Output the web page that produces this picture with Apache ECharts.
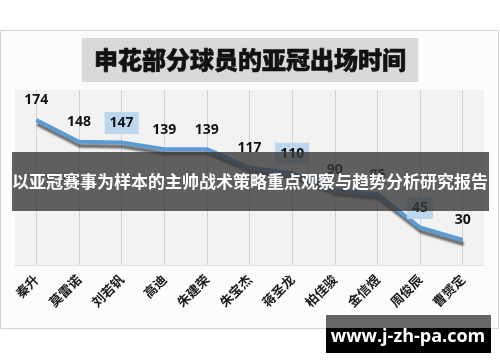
<!DOCTYPE html>
<html>
<head>
<meta charset="utf-8">
<script src="https://cdn.jsdelivr.net/npm/echarts@6/dist/echarts.min.js"></script>
<style>html,body{margin:0;padding:0;background:#fff;}#c{width:500px;height:362px;}</style>
</head>
<body>
<div id="c"></div>
<script>
const chartTitle = '申花部分球员的亚冠出场时间';
const bannerText = '以亚冠赛事为样本的主帅战术策略重点观察与趋势分析研究报告';
const watermarkText = 'www.j-zh-pa.com';
const categories = ['秦升','莫雷诺','刘若钒','高迪','朱建荣','朱宝杰','蒋圣龙','柏佳骏','金信煜','周俊辰','曹赟定'];
const minutes = [174,148,147,139,139,117,110,90,85,45,30];
const highlighted = ['刘若钒','蒋圣龙','周俊辰'];

const cjk = '"Noto Sans CJK SC", "Noto Sans", sans-serif';
const seriesData = minutes.map((v, i) => ({
  value: v,
  label: highlighted.indexOf(categories[i]) >= 0 ? { backgroundColor: '#bdd7ee' } : {}
}));

const chart = echarts.init(document.getElementById('c'), null, { renderer: 'canvas' });
chart.setOption({
  animation: false,
  backgroundColor: '#ffffff',
  title: {
    text: chartTitle,
    left: 'center',
    top: 38,
    backgroundColor: '#d9d9d9',
    padding: [8, 12],
    textStyle: { fontFamily: cjk, fontSize: 24, fontWeight: 900, color: '#111', lineHeight: 28,
      textBorderColor: '#111', textBorderWidth: 0.6 }
  },
  grid: {
    left: 15, right: 16, top: 90, bottom: 97,
    show: true, backgroundColor: '#f2f2f2', borderWidth: 0
  },
  xAxis: {
    type: 'category',
    data: categories,
    boundaryGap: true,
    axisLine: { show: true, lineStyle: { color: '#e2e2e2', width: 1 } },
    axisTick: { show: false },
    splitLine: { show: true, alignWithLabel: true, lineStyle: { color: '#d3d3d3', width: 1 } },
    axisLabel: {
      rotate: 45, margin: 12, interval: 0,
      fontFamily: cjk, fontSize: 13, fontWeight: 'bold', color: '#1a1a1a'
    }
  },
  yAxis: {
    type: 'value', min: 0, max: 210,
    show: false, splitLine: { show: false }
  },
  series: [{
    type: 'line',
    data: seriesData,
    symbol: 'circle',
    symbolSize: 1,
    showSymbol: true,
    itemStyle: { color: 'rgba(0,0,0,0)' },
    lineStyle: {
      color: '#5b9bd5', width: 4,
      shadowColor: 'rgba(20,20,20,0.6)', shadowBlur: 2, shadowOffsetX: 1, shadowOffsetY: 4
    },
    label: {
      show: true, position: 'top', distance: 8,
      padding: [4, 5],
      fontFamily: '"Open Sans", "Liberation Sans", sans-serif',
      fontSize: 14, fontWeight: 'bold', color: '#111'
    }
  }],
  graphic: [
    {
      type: 'rect', z: -10, silent: true,
      shape: { x: 0.5, y: 30.5, width: 498, height: 298 },
      style: { fill: '#fcfcfc', stroke: '#d4d4d4', lineWidth: 1 }
    },
    {
      type: 'rect', z: 100, silent: true,
      shape: { x: 12, y: 152, width: 477, height: 59 },
      style: { fill: 'rgba(58,58,58,0.8)' }
    },
    {
      type: 'text', z: 101, silent: true,
      style: {
        text: bannerText, x: 250, y: 182, align: 'center', verticalAlign: 'middle',
        fill: '#ffffff', font: 'bold 17px ' + cjk
      }
    },
    {
      type: 'rect', z: 100, silent: true,
      shape: { x: 326, y: 315, width: 165, height: 38 },
      style: { fill: '#000000' }
    },
    {
      type: 'rect', z: 100, silent: true,
      shape: { x: 326, y: 315, width: 165, height: 13 },
      style: { fill: '#666666' }
    },
    {
      type: 'text', z: 101, silent: true,
      style: {
        text: watermarkText, x: 408, y: 337, align: 'center', verticalAlign: 'middle',
        fill: '#ffffff', font: 'bold 18px "Open Sans", "Liberation Sans", sans-serif'
      }
    }
  ]
});
</script>
</body>
</html>
